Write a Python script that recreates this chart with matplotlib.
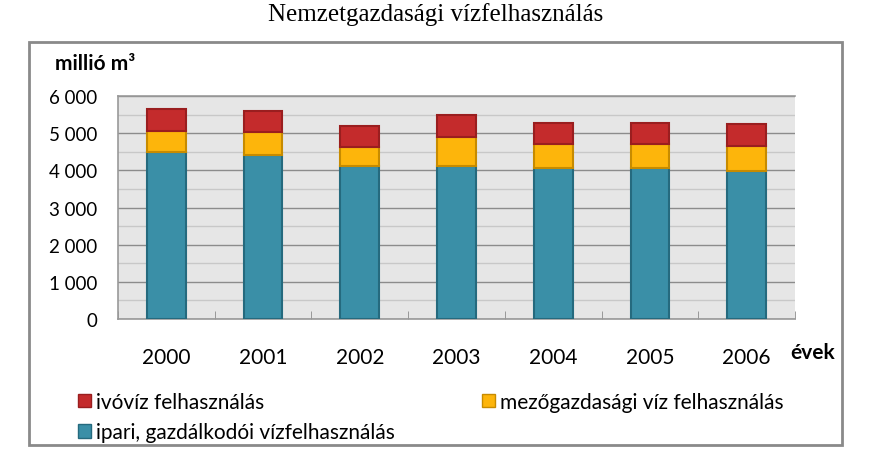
import matplotlib.pyplot as plt
from matplotlib.patches import Patch, Rectangle
import numpy as np

plt.rcParams['font.family'] = ['Lato', 'DejaVu Sans']

years = ['2000', '2001', '2002', '2003', '2004', '2005', '2006']
ipari = [4500, 4410, 4120, 4120, 4050, 4050, 3970]       # ipari, gazdálkodói
mezogazdasagi = [570, 625, 500, 770, 660, 660, 680]     # mezőgazdasági
ivoviz = [590, 570, 570, 600, 570, 570, 600]            # ivóvíz

labels = ['ivóvíz felhasználás', 'mezőgazdasági víz felhasználás',
          'ipari, gazdálkodói vízfelhasználás']
c_red, e_red = '#c42b2c', '#9a1e1f'
c_yel, e_yel = '#fdb50b', '#c78b00'
c_teal, e_teal = '#3a8fa7', '#256a7e'

fig = plt.figure(figsize=(8.72, 4.64), dpi=100)

# outer frame of the chart
fig.patches.append(Rectangle((29 / 872, 1 - 446 / 464), (842 - 29) / 872, (446 - 43) / 464,
                             transform=fig.transFigure, fill=False,
                             edgecolor='#8a8a8a', linewidth=2))

fig.text(0.5, 1 - 15 / 464, 'Nemzetgazdasági vízfelhasználás', ha='center', va='center',
         fontsize=18, family='Liberation Serif')

ax = fig.add_axes([118 / 872, 1 - 320 / 464, (795 - 118) / 872, (320 - 97) / 464])
ax.set_facecolor('#e6e6e6')

x = np.arange(len(years))
w = 0.4
ipari_a = np.array(ipari)
mezo_a = np.array(mezogazdasagi)
ax.bar(x, ipari, w, color=c_teal, edgecolor=e_teal, linewidth=1.5, zorder=3)
ax.bar(x, mezogazdasagi, w, bottom=ipari_a, color=c_yel, edgecolor=e_yel, linewidth=1.5, zorder=3)
ax.bar(x, ivoviz, w, bottom=ipari_a + mezo_a, color=c_red, edgecolor=e_red, linewidth=1.5, zorder=3)

ax.set_xlim(-0.5, len(years) - 0.5)
ax.set_ylim(0, 6000)
ax.set_yticks(np.arange(0, 6001, 1000))
ax.set_yticklabels(['0', '1 000', '2 000', '3 000', '4 000', '5 000', '6 000'])
ax.set_yticks(np.arange(500, 6000, 1000), minor=True)
ax.grid(True, axis='y', which='major', color='#8c8c8c', linewidth=1, zorder=1)
ax.grid(True, axis='y', which='minor', color='#c8c8c8', linewidth=1, zorder=1)
ax.tick_params(axis='y', which='both', length=0, pad=15, labelsize=13.5)

ax.set_xticks(x)
ax.set_xticklabels(years)
ax.set_xticks(np.arange(-0.5, len(years), 1), minor=True)
ax.tick_params(axis='x', which='major', length=0, pad=20, labelsize=15)
ax.tick_params(axis='x', which='minor', direction='in', length=6, color='#8c8c8c')

for s in ['left', 'top', 'bottom']:
    ax.spines[s].set_color('#999999')
    ax.spines[s].set_linewidth(1.2)
ax.spines['right'].set_visible(False)

fig.text(55 / 872, 1 - 64 / 464, 'millió m³', fontsize=15, fontweight='bold', va='center')
fig.text(790 / 872, 1 - 353 / 464, 'évek', fontsize=15, fontweight='bold', va='center')

handles = [Patch(facecolor=c_red, edgecolor=e_red, label=labels[0]),
           Patch(facecolor=c_teal, edgecolor=e_teal, label=labels[2]),
           Patch(facecolor=c_yel, edgecolor=e_yel, label=labels[1])]
fig.legend(handles=handles, ncol=2, loc='upper left',
           bbox_to_anchor=(78 / 872, 1 - 393 / 464), frameon=False, fontsize=15,
           handlelength=0.6, handleheight=0.6, handletextpad=0.25,
           columnspacing=4.2, labelspacing=0.5, borderaxespad=0, borderpad=0)

fig.savefig('out.png', dpi=100)
